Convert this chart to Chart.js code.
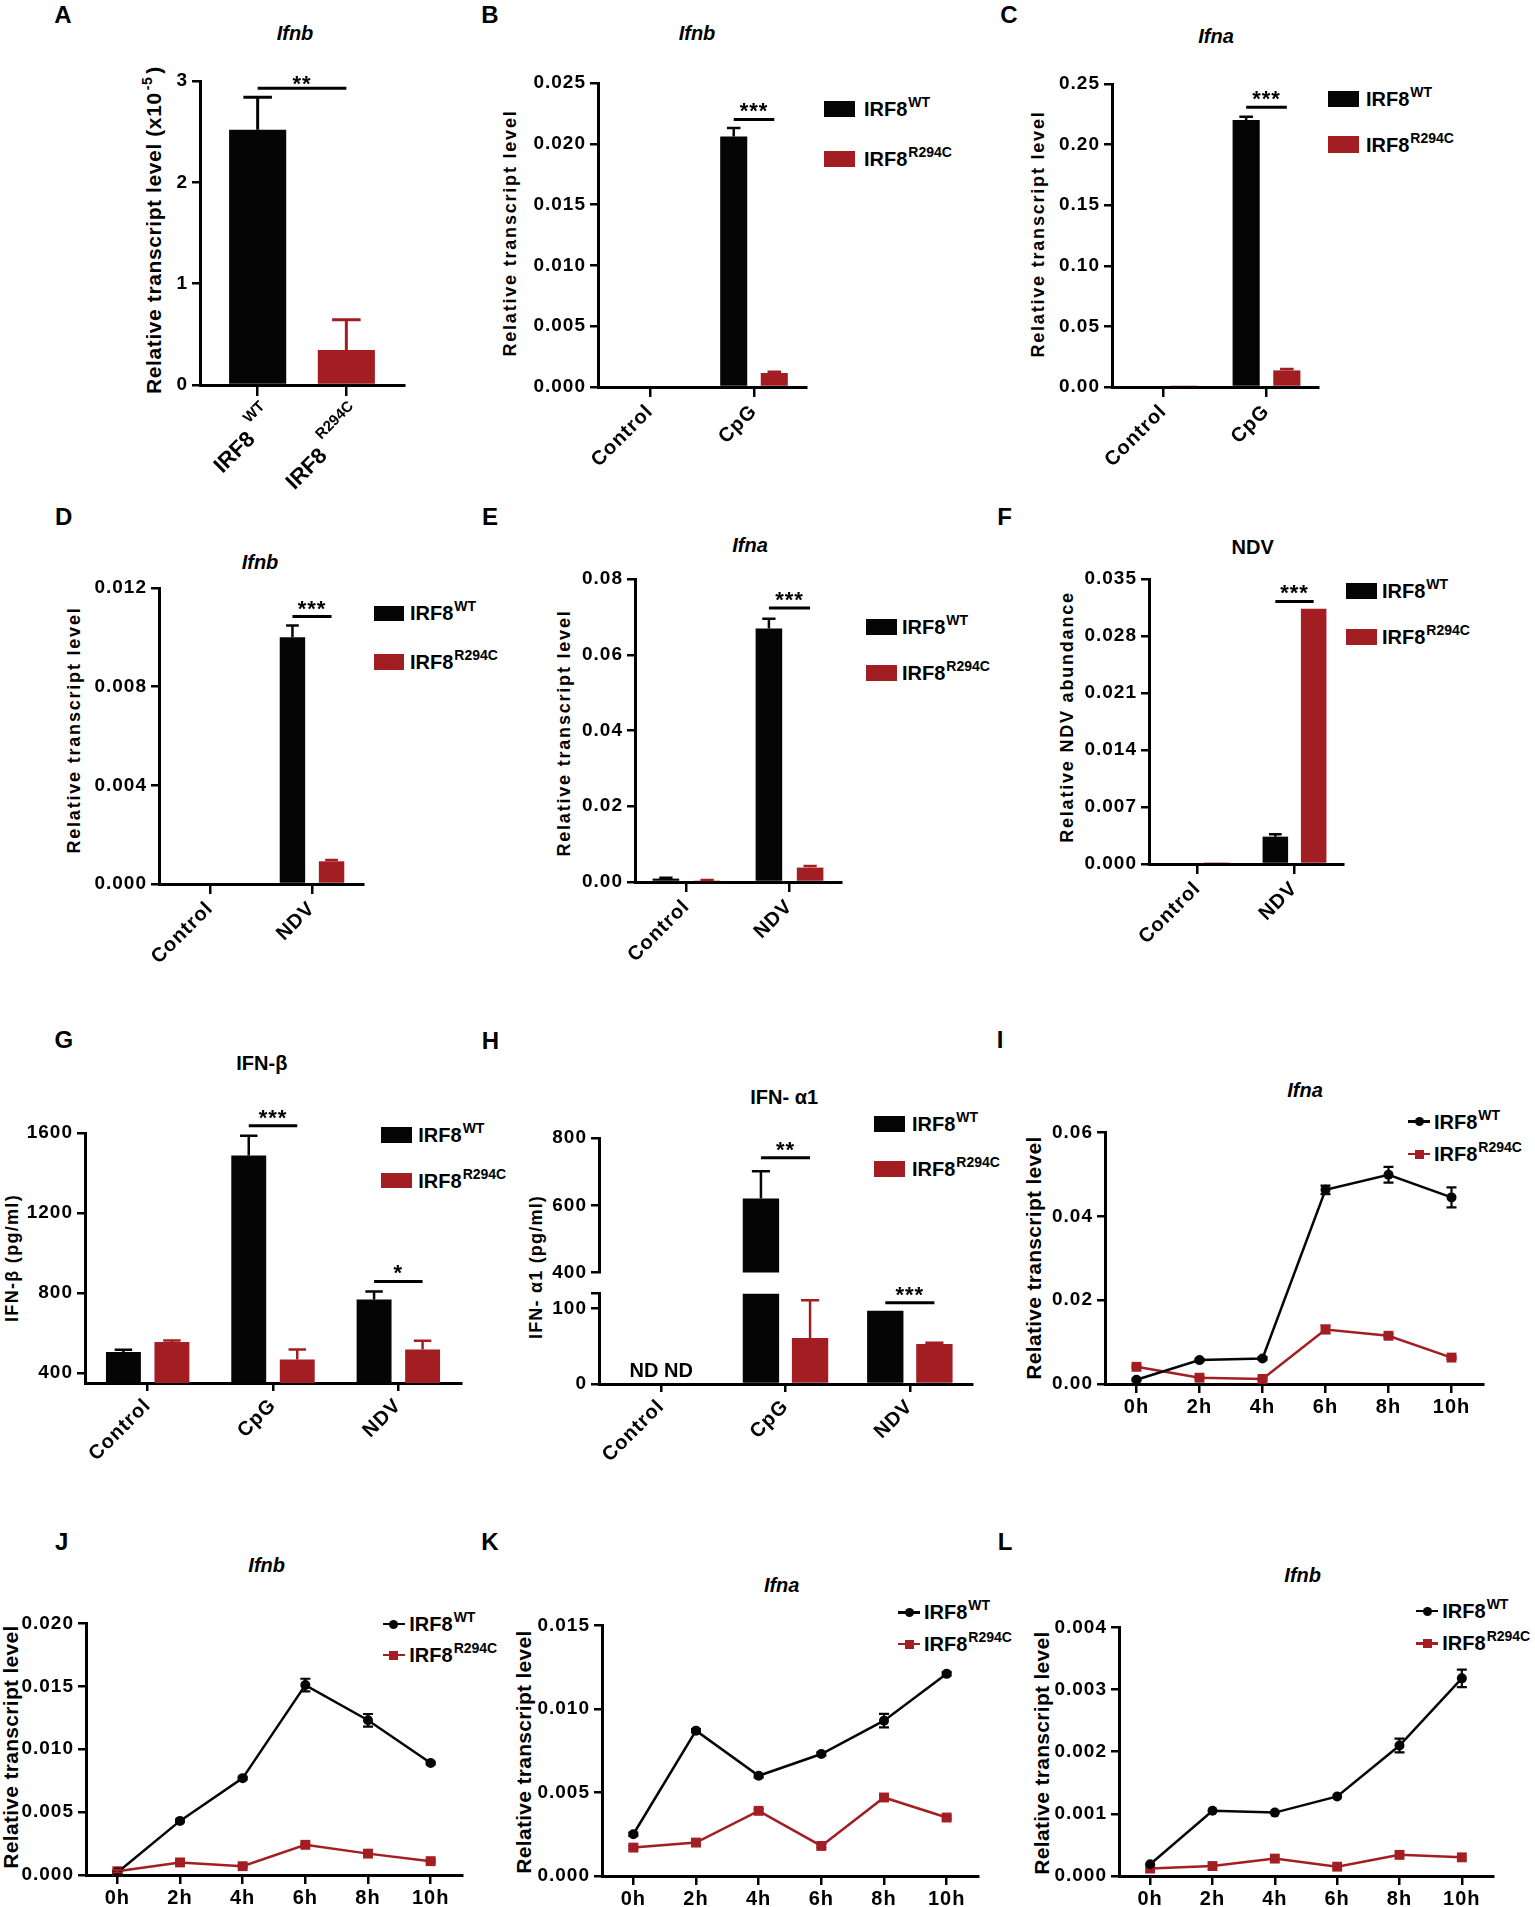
<!DOCTYPE html>
<html>
<head>
<meta charset="utf-8">
<script src="https://cdn.jsdelivr.net/npm/chart.js@4.4.1/dist/chart.umd.min.js"></script>
<style>
  body { margin: 0; background: #fff; }
  #fig { position: relative; width: 1535px; height: 1907px; overflow: hidden; background: #fff;
         font-family: "Liberation Sans", Arial, Helvetica, sans-serif; font-weight: bold; color: #000; }
  #fig canvas { position: absolute; }
  .t { position: absolute; white-space: nowrap; line-height: 1; }
  .c { transform: translate(-50%, -50%); }
  .v { transform: translate(-50%, -50%) rotate(-90deg); }
  .l { transform: translateY(-50%); }
  .sup { font-size: 14px; position: relative; top: -9px; margin-left: 1px; }
  .sw { position: absolute; }
</style>
</head>
<body>
<div id="fig"></div>
<script>
// ---------- data ----------
const seriesNames = ['IRF8', 'IRF8'];
const seriesSups = ['WT', 'R294C'];

// A - Ifnb, genotypes
const aCats = ['IRF8', 'IRF8'];
const aCatSups = ['WT', 'R294C'];
const aVals = [2.52, 0.345];
const aErr = [0.32, 0.30];
const aTicks = [0, 1, 2, 3];
const aTickLabels = ['0', '1', '2', '3'];

// B - Ifnb, CpG
const cpgCats = ['Control', 'CpG'];
const bWT = [0, 0.0206];
const bWTErr = [0, 0.0007];
const bMut = [0, 0.00115];
const bMutErr = [0, 0.0001];
const bTicks = [0, 0.005, 0.010, 0.015, 0.020, 0.025];
const bTickLabels = ['0.000', '0.005', '0.010', '0.015', '0.020', '0.025'];

// C - Ifna, CpG
const cWT = [0, 0.2203];
const cWTErr = [0, 0.0027];
const cMut = [0.0008, 0.0137];
const cMutErr = [0, 0.0011];
const cTicks = [0, 0.05, 0.10, 0.15, 0.20, 0.25];
const cTickLabels = ['0.00', '0.05', '0.10', '0.15', '0.20', '0.25'];

// D - Ifnb, NDV
const ndvCats = ['Control', 'NDV'];
const dWT = [0, 0.0100];
const dWTErr = [0, 0.00048];
const dMut = [0, 0.00092];
const dMutErr = [0, 0.00005];
const dTicks = [0, 0.004, 0.008, 0.012];
const dTickLabels = ['0.000', '0.004', '0.008', '0.012'];

// E - Ifna, NDV
const eWT = [0.0009, 0.0669];
const eWTErr = [0.0002, 0.0026];
const eMut = [0.0004, 0.0038];
const eMutErr = [0.0001, 0.0004];
const eTicks = [0, 0.02, 0.04, 0.06, 0.08];
const eTickLabels = ['0.00', '0.02', '0.04', '0.06', '0.08'];

// F - NDV abundance
const fWT = [0, 0.00336];
const fWTErr = [0, 0.00029];
const fMut = [0.0002, 0.03135];
const fMutErr = [0, 0];
const fTicks = [0, 0.007, 0.014, 0.021, 0.028, 0.035];
const fTickLabels = ['0.000', '0.007', '0.014', '0.021', '0.028', '0.035'];

// G - IFN-beta protein
const stimCats = ['Control', 'CpG', 'NDV'];
const gWT = [505, 1488, 767];
const gWTErr = [11, 98, 41];
const gMut = [555, 467, 517];
const gMutErr = [8, 50, 44];
const gTicks = [400, 800, 1200, 1600];
const gTickLabels = ['400', '800', '1200', '1600'];

// H - IFN-alpha1 protein (broken axis)
const hWT = [null, 620, 97];
const hWTErr = [0, 81, 0];
const hMut = [null, 61, 53];
const hMutErr = [0, 50, 1.5];
const hTicksUpper = [400, 600, 800];
const hTickLabelsUpper = ['400', '600', '800'];
const hTicksLower = [0, 100, 120];
const hTickLabelsLower = ['0', '100', ''];

// I-L - time courses
const hours = ['0h', '2h', '4h', '6h', '8h', '10h'];
const iWT = [0.0010, 0.0057, 0.0061, 0.0463, 0.0499, 0.0445];
const iWTErr = [0.0002, 0.0003, 0.0003, 0.0010, 0.0019, 0.0024];
const iMut = [0.0041, 0.0015, 0.0012, 0.0130, 0.0115, 0.0063];
const iMutErr = [0.0002, 0.0002, 0.0002, 0.0009, 0.0004, 0.0003];
const iTicks = [0, 0.02, 0.04, 0.06];
const iTickLabels = ['0.00', '0.02', '0.04', '0.06'];

const jWT = [0.0002, 0.0043, 0.0077, 0.0151, 0.0123, 0.0089];
const jWTErr = [0.0001, 0.0001, 0.0001, 0.0005, 0.0005, 0.0001];
const jMut = [0.0003, 0.0010, 0.0007, 0.0024, 0.0017, 0.0011];
const jMutErr = [0.0001, 0.0001, 0.0001, 0.0001, 0.0001, 0.0001];
const jTicks = [0, 0.005, 0.010, 0.015, 0.020];
const jTickLabels = ['0.000', '0.005', '0.010', '0.015', '0.020'];

const kWT = [0.0025, 0.0087, 0.0060, 0.0073, 0.0093, 0.0121];
const kWTErr = [0.0001, 0.0001, 0.0001, 0.0001, 0.0004, 0.0001];
const kMut = [0.0017, 0.0020, 0.0039, 0.0018, 0.0047, 0.0035];
const kMutErr = [0.0001, 0.0001, 0.0001, 0.0001, 0.0001, 0.0001];
const kTicks = [0, 0.005, 0.010, 0.015];
const kTickLabels = ['0.000', '0.005', '0.010', '0.015'];

const lWT = [0.00019, 0.00105, 0.00102, 0.00128, 0.0021, 0.00318];
const lWTErr = [0, 0, 0, 0, 0.00011, 0.00014];
const lMut = [0.00012, 0.00016, 0.00028, 0.00015, 0.00034, 0.00030];
const lMutErr = [0, 0, 0, 0, 0, 0];
const lTicks = [0, 0.001, 0.002, 0.003, 0.004];
const lTickLabels = ['0.000', '0.001', '0.002', '0.003', '0.004'];

// ---------- layout (axis rectangles in page px) ----------
const boxes = {
  A: { L: 199.5, T: 81, R: 403, B: 385 },
  B: { L: 598, T: 83.3, R: 805.5, B: 387.3 },
  C: { L: 1112, T: 84, R: 1317.6, B: 387.3 },
  D: { L: 158.8, T: 588.3, R: 362.7, B: 884.3 },
  E: { L: 635.2, T: 579.3, R: 841, B: 882.7 },
  F: { L: 1148.8, T: 579.3, R: 1342.9, B: 864 },
  G: { L: 84.9, T: 1133.3, R: 461, B: 1383.3 },
  Hu: { L: 599, T: 1137.7, R: 971.9, B: 1273.3 },
  Hl: { L: 599, T: 1292.7, R: 971.9, B: 1384 },
  I: { L: 1105, T: 1131.7, R: 1484, B: 1384 },
  J: { L: 86, T: 1623.3, R: 463.3, B: 1875 },
  K: { L: 601.7, T: 1625, R: 979, B: 1875.7 },
  L: { L: 1119, T: 1626.7, R: 1494, B: 1876 }
};

const RED = '#a21e23';
const BLACK = '#050505';
const FONT = '"Liberation Sans", Arial, Helvetica, sans-serif';
Chart.defaults.font.family = FONT;
Chart.defaults.font.weight = 'bold';
Chart.defaults.color = '#000';

const fig = document.getElementById('fig');

// error bars, significance bars, notes and superscript category labels
const extras = {
  id: 'extras',
  beforeDraw(chart, args, o) { chart.ctx.letterSpacing = o.spacing || '0px'; },
  afterDraw(chart, args, o) {
    const ctx = chart.ctx, ys = chart.scales.y, xs = chart.scales.x;
    ctx.save();
    chart.data.datasets.forEach((ds, di) => {
      if (!ds.err) return;
      chart.getDatasetMeta(di).data.forEach((el, i) => {
        const v = ds.data[i], e = ds.err[i];
        if (v == null || !e) return;
        const top = ys.getPixelForValue(v + e);
        ctx.strokeStyle = Array.isArray(ds.errColor) ? ds.errColor[i] : ds.errColor;
        ctx.lineWidth = o.errWidth || 2.5;
        ctx.beginPath();
        if (o.bars) {
          const cap = el.width / 4;
          ctx.moveTo(el.x, el.y); ctx.lineTo(el.x, top);
          ctx.moveTo(el.x - cap, top); ctx.lineTo(el.x + cap, top);
        } else {
          const bot = ys.getPixelForValue(v - e), cap = 5;
          ctx.moveTo(el.x, bot); ctx.lineTo(el.x, top);
          ctx.moveTo(el.x - cap, top); ctx.lineTo(el.x + cap, top);
          ctx.moveTo(el.x - cap, bot); ctx.lineTo(el.x + cap, bot);
        }
        ctx.stroke();
      });
    });
    (o.sig || []).forEach(s => {
      const pair = s.pair || [[0, s.cat], [1, s.cat]];
      const a = chart.getDatasetMeta(pair[0][0]).data[pair[0][1]];
      const b = chart.getDatasetMeta(pair[1][0]).data[pair[1][1]];
      const y = ys.getPixelForValue(s.y);
      ctx.strokeStyle = '#000'; ctx.lineWidth = 3;
      ctx.beginPath(); ctx.moveTo(a.x, y); ctx.lineTo(b.x, y); ctx.stroke();
      ctx.fillStyle = '#000';
      ctx.font = `bold 22px ${FONT}`;
      ctx.letterSpacing = '1px';
      ctx.textAlign = 'center'; ctx.textBaseline = 'alphabetic';
      ctx.fillText(s.text, (a.x + b.x) / 2, y + (o.starLift == null ? -1 : o.starLift));
    });
    (o.notes || []).forEach(n => {
      ctx.fillStyle = '#000';
      ctx.font = `bold 20px ${FONT}`;
      ctx.letterSpacing = '0px';
      ctx.textAlign = 'center'; ctx.textBaseline = 'middle';
      ctx.fillText(n.text, xs.getPixelForValue(n.cat), ys.getPixelForValue(n.y));
    });
    if (o.supLabels) {
      ctx.letterSpacing = '0px';
      ctx.fillStyle = '#000';
      o.supLabels.main.forEach((m, i) => {
        const sup = o.supLabels.sup[i];
        ctx.save();
        ctx.translate(xs.getPixelForValue(i) + 5, xs.top + 19);
        ctx.rotate(-Math.PI / 4);
        ctx.textAlign = 'right'; ctx.textBaseline = 'middle';
        ctx.font = `bold 15px ${FONT}`;
        const sw = ctx.measureText(sup).width;
        ctx.fillText(sup, 0, 0);
        ctx.font = `bold 22px ${FONT}`;
        ctx.fillText(m, -sw - 7, 15);
        ctx.restore();
      });
    }
    ctx.restore();
  }
};

function place(box, yw, xh, padT, padR, padB) {
  const left = box.L - yw, top = box.T - padT;
  const w = Math.round(box.R - left + padR);
  const h = Math.round(box.B - top + xh + padB);
  const c = document.createElement('canvas');
  c.width = w; c.height = h;
  Object.assign(c.style, { left: left + 'px', top: top + 'px', width: w + 'px', height: h + 'px' });
  fig.appendChild(c);
  return c;
}

const axisBorder = { display: true, color: '#000', width: 3 };

function yScale(min, max, ticks, labels, yw) {
  return {
    type: 'linear', min: min, max: max,
    afterBuildTicks: s => { s.ticks = ticks.map(v => ({ value: v })); },
    afterFit: s => { s.width = yw; },
    ticks: { callback: (v, i) => labels[i], font: { size: 19, weight: 'bold' }, color: '#000', padding: 4, autoSkip: false },
    border: axisBorder,
    grid: { display: true, drawOnChartArea: false, drawTicks: true, tickLength: 8, color: '#000', lineWidth: 2.5 }
  };
}

function barChart(box, o) {
  const yw = o.yw || 90, xh = o.xh == null ? 110 : o.xh, padT = o.padT == null ? 45 : o.padT;
  const padR = 6, padB = o.padB || 0;
  const c = place(box, yw, xh, padT, padR, padB);
  const pad = o.xPad || 0;
  return new Chart(c, {
    type: 'bar',
    data: {
      labels: o.cats,
      datasets: o.series.map(s => ({
        data: s.data, err: s.err, backgroundColor: s.color, errColor: s.color,
        borderWidth: 0, categoryPercentage: o.catPct, barPercentage: o.barPct
      }))
    },
    options: {
      responsive: false, animation: false, events: [],
      layout: { padding: { left: 0, top: padT, right: padR, bottom: padB } },
      plugins: {
        legend: { display: false }, tooltip: { enabled: false },
        extras: { bars: true, sig: o.sig, notes: o.notes, supLabels: o.supLabels, spacing: '1px', starLift: o.starLift, errWidth: o.errWidth }
      },
      scales: {
        x: {
          type: 'category', offset: true, display: !o.hideX,
          afterBuildTicks: s => { s._startValue -= pad; s._valueRange += 2 * pad; },
          afterFit: s => { s.height = xh; },
          ticks: { display: !o.supLabels, font: { size: 20, weight: 'bold' }, color: '#000', minRotation: 45, maxRotation: 45, padding: 3, autoSkip: false },
          border: axisBorder,
          grid: { display: true, offset: false, drawOnChartArea: false, drawTicks: true, tickLength: o.xTick || 10, color: '#000', lineWidth: 2.5 }
        },
        y: yScale(o.yMin, o.yMax, o.ticks, o.tickLabels, yw)
      }
    },
    plugins: [extras]
  });
}

function lineChart(box, o) {
  const yw = 80, xh = 45, padT = 15, padR = 6;
  const c = place(box, yw, xh, padT, padR, 0);
  return new Chart(c, {
    type: 'line',
    data: {
      labels: hours,
      datasets: [
        { data: o.wt, err: o.wtErr, errColor: BLACK, borderColor: BLACK, backgroundColor: BLACK, borderWidth: 2.5,
          pointStyle: 'circle', pointRadius: 5, pointBorderWidth: 0, tension: 0, fill: false, clip: false },
        { data: o.mut, err: o.mutErr, errColor: RED, borderColor: RED, backgroundColor: RED, borderWidth: 2.5,
          pointStyle: 'rect', pointRadius: 7, pointBorderWidth: 0, tension: 0, fill: false, clip: false }
      ]
    },
    options: {
      responsive: false, animation: false, events: [],
      layout: { padding: { left: 0, top: padT, right: padR, bottom: 0 } },
      plugins: { legend: { display: false }, tooltip: { enabled: false }, extras: { bars: false, spacing: '1px', errWidth: 2.2 } },
      scales: {
        x: {
          type: 'category', offset: true,
          afterFit: s => { s.height = xh; },
          ticks: { font: { size: 20, weight: 'bold' }, color: '#000', padding: 2, autoSkip: false, maxRotation: 0 },
          border: axisBorder,
          grid: { display: true, offset: false, drawOnChartArea: false, drawTicks: true, tickLength: 9, color: '#000', lineWidth: 2.5 }
        },
        y: yScale(o.yMin, o.yMax, o.ticks, o.tickLabels, yw)
      }
    },
    plugins: [extras]
  });
}

// ---------- html text ----------
function txt(html, x, y, cls, css) {
  const d = document.createElement('div');
  d.className = 't ' + cls;
  d.innerHTML = html;
  d.style.left = x + 'px';
  d.style.top = y + 'px';
  if (css) d.style.cssText += css;
  fig.appendChild(d);
}

function barLegend(lg) {
  [BLACK, RED].forEach((col, i) => {
    const y = lg.rows[i];
    const b = document.createElement('div');
    b.className = 'sw';
    b.style.cssText = `left:${lg.x}px;top:${y - lg.h / 2}px;width:${lg.w}px;height:${lg.h}px;background:${col}`;
    fig.appendChild(b);
    txt(`${seriesNames[i]}<span class="sup">${seriesSups[i]}</span>`, lg.tx, y, 'l', 'font-size:20px');
  });
}

function lineLegend(lg) {
  [BLACK, RED].forEach((col, i) => {
    const y = lg.rows[i];
    const ln = document.createElement('div');
    ln.className = 'sw';
    ln.style.cssText = `left:${lg.x1}px;top:${y - 1.25}px;width:${lg.x2 - lg.x1}px;height:2.5px;background:${col}`;
    fig.appendChild(ln);
    const s = i ? 9 : 9;
    const mk = document.createElement('div');
    mk.className = 'sw';
    mk.style.cssText = `left:${(lg.x1 + lg.x2) / 2 - s / 2}px;top:${y - s / 2}px;width:${s}px;height:${s}px;background:${col};border-radius:${i ? '0' : '50%'}`;
    fig.appendChild(mk);
    txt(`${seriesNames[i]}<span class="sup">${seriesSups[i]}</span>`, lg.tx, y, 'l', 'font-size:20px');
  });
}

// panel letters
[['A', 63, 15], ['B', 490, 15], ['C', 1009, 15], ['D', 63.7, 516.7], ['E', 490, 516.7], ['F', 1004.7, 516.7],
 ['G', 63.9, 1040], ['H', 490.4, 1040.7], ['I', 1000, 1040], ['J', 61.7, 1541.7], ['K', 490, 1541.7], ['L', 1005, 1541.7]]
  .forEach(([t, x, y]) => txt(t, x, y, 'c', 'font-size:24px'));

// panel titles
[['Ifnb', 295, 33, 1], ['Ifnb', 697, 33, 1], ['Ifna', 1216, 36, 1], ['Ifnb', 260, 561.7, 1], ['Ifna', 750, 545, 1],
 ['NDV', 1252.7, 546.7, 0], ['IFN-β', 261.8, 1063.3, 0], ['IFN- α1', 784.2, 1097.3, 0], ['Ifna', 1305, 1090, 1],
 ['Ifnb', 266.7, 1565, 1], ['Ifna', 781.7, 1585, 1], ['Ifnb', 1302.7, 1575, 1]]
  .forEach(([t, x, y, it]) => txt(t, x, y, 'c', 'font-size:20px;' + (it ? 'font-style:italic;' : '')));

// y axis titles
const rtl = 'Relative transcript level';
txt(rtl + ' (x10<span style="font-size:14px;position:relative;top:-9px;margin-left:2px;margin-right:3px">-5</span>)', 153, 230, 'v', 'font-size:21px;letter-spacing:0.6px');
[[rtl, 510.3, 232.5], [rtl, 1038, 233.8], [rtl, 73.5, 730], [rtl, 563.7, 732.5], ['Relative NDV abundance', 1066.5, 716.7]]
  .forEach(([t, x, y]) => txt(t, x, y, 'v', 'font-size:18px;letter-spacing:1.8px'));
txt('IFN-β (pg/ml)', 11.5, 1258, 'v', 'font-size:18px;letter-spacing:1.3px');
txt('IFN- α1 (pg/ml)', 536.4, 1267, 'v', 'font-size:18px;letter-spacing:1.2px');
[[1033.3, 1258], [10, 1746.7], [523.3, 1751.7], [1040.7, 1753]]
  .forEach(([x, y]) => txt(rtl, x, y, 'v', 'font-size:21px;letter-spacing:0.3px'));

// legends
barLegend({ x: 823.7, w: 31, h: 16, rows: [108.7, 159.2], tx: 864 });
barLegend({ x: 1327.7, w: 31.7, h: 16.5, rows: [99, 144.7], tx: 1366 });
barLegend({ x: 373.5, w: 30.5, h: 15.5, rows: [613.3, 662], tx: 410 });
barLegend({ x: 865.7, w: 31.3, h: 16, rows: [627.2, 672.5], tx: 902 });
barLegend({ x: 1345.8, w: 31.4, h: 16, rows: [591.2, 636.7], tx: 1382 });
barLegend({ x: 380.6, w: 31.3, h: 15.5, rows: [1135, 1180.5], tx: 418.3 });
barLegend({ x: 873.6, w: 31.9, h: 15.5, rows: [1123.8, 1169.2], tx: 912 });
lineLegend({ x1: 1408.3, x2: 1430, rows: [1121.7, 1154], tx: 1434 });
lineLegend({ x1: 382.7, x2: 405, rows: [1624, 1655], tx: 409.3 });
lineLegend({ x1: 898.3, x2: 920, rows: [1612.3, 1644], tx: 924 });
lineLegend({ x1: 1416, x2: 1438.3, rows: [1611, 1643.3], tx: 1442.3 });

// ---------- charts ----------
barChart(boxes.A, {
  cats: aCats, series: [{ data: aVals, err: aErr, color: [BLACK, RED] }],
  catPct: 1, barPct: 0.644, xPad: 0.15, yMin: 0, yMax: 3, ticks: aTicks, tickLabels: aTickLabels,
  supLabels: { main: aCats, sup: aCatSups }, xTick: 11, errWidth: 3, starLift: 3,
  sig: [{ pair: [[0, 0], [0, 1]], y: 2.928, text: '**' }]
});
barChart(boxes.B, {
  cats: cpgCats, series: [{ data: bWT, err: bWTErr, color: BLACK }, { data: bMut, err: bMutErr, color: RED }],
  catPct: 0.78, barPct: 0.667, yMin: 0, yMax: 0.025, ticks: bTicks, tickLabels: bTickLabels,
  sig: [{ cat: 1, y: 0.0220, text: '***' }]
});
barChart(boxes.C, {
  cats: cpgCats, series: [{ data: cWT, err: cWTErr, color: BLACK }, { data: cMut, err: cMutErr, color: RED }],
  catPct: 0.79, barPct: 0.667, yMin: 0, yMax: 0.25, ticks: cTicks, tickLabels: cTickLabels,
  sig: [{ cat: 1, y: 0.2308, text: '***' }]
});
barChart(boxes.D, {
  cats: ndvCats, series: [{ data: dWT, err: dWTErr, color: BLACK }, { data: dMut, err: dMutErr, color: RED }],
  catPct: 0.767, barPct: 0.65, yMin: 0, yMax: 0.012, ticks: dTicks, tickLabels: dTickLabels,
  sig: [{ cat: 1, y: 0.01084, text: '***' }]
});
barChart(boxes.E, {
  cats: ndvCats, series: [{ data: eWT, err: eWTErr, color: BLACK }, { data: eMut, err: eMutErr, color: RED }],
  catPct: 0.8, barPct: 0.645, yMin: 0, yMax: 0.08, ticks: eTicks, tickLabels: eTickLabels,
  sig: [{ cat: 1, y: 0.07235, text: '***' }]
});
barChart(boxes.F, {
  cats: ndvCats, series: [{ data: fWT, err: fWTErr, color: BLACK }, { data: fMut, err: fMutErr, color: RED }],
  catPct: 0.79, barPct: 0.666, yMin: 0, yMax: 0.035, ticks: fTicks, tickLabels: fTickLabels,
  sig: [{ cat: 1, y: 0.03225, text: '***' }]
});
barChart(boxes.G, {
  cats: stimCats, series: [{ data: gWT, err: gWTErr, color: BLACK }, { data: gMut, err: gMutErr, color: RED }],
  catPct: 0.774, barPct: 0.72, yMin: 350, yMax: 1600, ticks: gTicks, tickLabels: gTickLabels, yw: 80, xTick: 8,
  sig: [{ cat: 1, y: 1636, text: '***' }, { cat: 2, y: 858, text: '*' }]
});
// H: upper segment (400-800) and lower segment (0-120) of the broken axis
const hUpMin = 400, hLowMax = 120;
barChart(boxes.Hu, {
  cats: stimCats,
  series: [
    { data: hWT.map(v => (v != null && v > hUpMin ? v : null)), err: hWT.map((v, i) => (v > hUpMin ? hWTErr[i] : 0)), color: BLACK },
    { data: hMut.map(v => (v != null && v > hUpMin ? v : null)), err: hMut.map((v, i) => (v > hUpMin ? hMutErr[i] : 0)), color: RED }
  ],
  catPct: 0.79, barPct: 0.74, yMin: 400, yMax: 800, ticks: hTicksUpper, tickLabels: hTickLabelsUpper,
  hideX: true, xh: 0, padB: 14,
  sig: [{ cat: 1, y: 741, text: '**' }]
});
barChart(boxes.Hl, {
  cats: stimCats,
  series: [
    { data: hWT.map(v => (v == null ? null : Math.min(v, hLowMax))), err: hWT.map((v, i) => (v > hLowMax ? 0 : hWTErr[i])), color: BLACK },
    { data: hMut.map(v => (v == null ? null : Math.min(v, hLowMax))), err: hMut.map((v, i) => (v > hLowMax ? 0 : hMutErr[i])), color: RED }
  ],
  catPct: 0.79, barPct: 0.74, yMin: 0, yMax: 120, ticks: hTicksLower, tickLabels: hTickLabelsLower, padT: 15, xTick: 8,
  sig: [{ cat: 2, y: 107.5, text: '***' }],
  notes: [{ cat: 0, y: 16, text: 'ND ND' }]
});

lineChart(boxes.I, { wt: iWT, wtErr: iWTErr, mut: iMut, mutErr: iMutErr, yMin: 0, yMax: 0.06, ticks: iTicks, tickLabels: iTickLabels });
lineChart(boxes.J, { wt: jWT, wtErr: jWTErr, mut: jMut, mutErr: jMutErr, yMin: 0, yMax: 0.020, ticks: jTicks, tickLabels: jTickLabels });
lineChart(boxes.K, { wt: kWT, wtErr: kWTErr, mut: kMut, mutErr: kMutErr, yMin: 0, yMax: 0.015, ticks: kTicks, tickLabels: kTickLabels });
lineChart(boxes.L, { wt: lWT, wtErr: lWTErr, mut: lMut, mutErr: lMutErr, yMin: 0, yMax: 0.004, ticks: lTicks, tickLabels: lTickLabels });
</script>
</body>
</html>
